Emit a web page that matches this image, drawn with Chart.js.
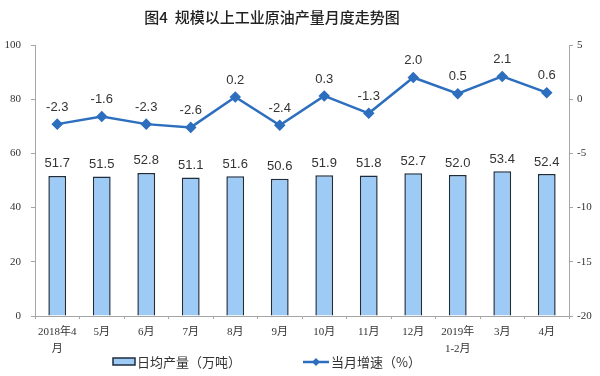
<!DOCTYPE html>
<html>
<head>
<meta charset="utf-8">
<script src="https://cdn.jsdelivr.net/npm/chart.js@4"></script>
<style>
  html, body { margin: 0; padding: 0; background: #fff; }
  #wrap { width: 600px; height: 376px; position: relative; }
</style>
</head>
<body>
<div id="wrap"><canvas id="chart" width="600" height="376"></canvas></div>
<script>
const months = [['2018年4', '月'], '5月', '6月', '7月', '8月', '9月', '10月', '11月', '12月', ['2019年', '1-2月'], '3月', '4月'];
const dailyOutput = [51.7, 51.5, 52.8, 51.1, 51.6, 50.6, 51.9, 51.8, 52.7, 52.0, 53.4, 52.4];
const growthRate = [-2.3, -1.6, -2.3, -2.6, 0.2, -2.4, 0.3, -1.3, 2.0, 0.5, 2.1, 0.6];
const leftTicks = [0, 20, 40, 60, 80, 100];
const rightTicks = [-20, -15, -10, -5, 0, 5];

const serif = '"Liberation Serif", "Noto Sans CJK SC", serif';
const sans = '"Liberation Sans", Arial, sans-serif';
const cjk = '"Noto Sans CJK SC", sans-serif';
const barFill = '#9ecbf6';
const barEdge = '#1e2c3c';
const lineColor = '#2d6fbe';
const axisColor = '#a6a6a6';

// draws value labels, title and legend
const extras = {
    id: 'extras',
    afterDatasetsDraw(chart) {
        const ctx = chart.ctx;
        ctx.save();
        ctx.textAlign = 'center';
        ctx.textBaseline = 'middle';
        ctx.fillStyle = '#333';
        ctx.font = '13px ' + sans;
        // dataset 0 = line, dataset 1 = bars
        chart.getDatasetMeta(1).data.forEach((bar, i) => {
            ctx.fillText(dailyOutput[i].toFixed(1), bar.x, bar.y - 12);
        });
        chart.getDatasetMeta(0).data.forEach((pt, i) => {
            ctx.fillText(growthRate[i].toFixed(1), pt.x, pt.y - 17);
        });

        // title
        ctx.font = '500 15px ' + cjk;
        ctx.fillStyle = '#222';
        ctx.fillText('图4  规模以上工业原油产量月度走势图', 272, 17);

        // legend
        ctx.textAlign = 'left';
        ctx.font = '13px ' + cjk;
        ctx.fillStyle = barFill;
        ctx.fillRect(113, 358, 22, 7);
        ctx.strokeStyle = barEdge;
        ctx.lineWidth = 1.5;
        ctx.strokeRect(113, 358, 22, 7);
        ctx.fillStyle = '#333';
        ctx.fillText('日均产量（万吨）', 137, 362);

        ctx.strokeStyle = lineColor;
        ctx.lineWidth = 2.5;
        ctx.beginPath();
        ctx.moveTo(303, 362);
        ctx.lineTo(329, 362);
        ctx.stroke();
        ctx.fillStyle = lineColor;
        ctx.beginPath();
        ctx.moveTo(316, 358);
        ctx.lineTo(320, 362);
        ctx.lineTo(316, 366);
        ctx.lineTo(312, 362);
        ctx.closePath();
        ctx.fill();
        ctx.fillStyle = '#333';
        ctx.fillText('当月增速（%）', 331, 362);
        ctx.restore();
    }
};

const ctx = document.getElementById('chart').getContext('2d');
const myChart = new Chart(ctx, {
    data: {
        labels: months,
        datasets: [{
            type: 'line',
            label: '当月增速（%）',
            data: growthRate,
            yAxisID: 'y1',
            borderColor: lineColor,
            backgroundColor: lineColor,
            borderWidth: 2.5,
            pointStyle: 'rectRot',
            pointRadius: 4,
            tension: 0,
            order: 0
        }, {
            type: 'bar',
            label: '日均产量（万吨）',
            data: dailyOutput,
            yAxisID: 'y',
            backgroundColor: barFill,
            borderColor: barEdge,
            borderWidth: 1.5,
            categoryPercentage: 1,
            barPercentage: 0.4,
            order: 1
        }]
    },
    options: {
        responsive: false,
        animation: false,
        layout: { padding: { top: 45, bottom: 0, left: 0, right: 0 } },
        plugins: {
            legend: { display: false },
            title: { display: false },
            tooltip: { enabled: false }
        },
        scales: {
            x: {
                offset: true,
                grid: { display: true, drawOnChartArea: false, offset: true, tickLength: 3, color: axisColor },
                border: { color: axisColor },
                ticks: { color: '#333', font: { family: serif, size: 11, lineHeight: 1.5 }, maxRotation: 0, autoSkip: false, padding: 5 },
                afterFit: s => { s.height = 60; }
            },
            y: {
                position: 'left',
                min: 0, max: 100,
                afterBuildTicks: s => { s.ticks = leftTicks.map(v => ({ value: v })); },
                grid: { drawOnChartArea: false, tickLength: 4, color: axisColor },
                border: { color: axisColor },
                ticks: { color: '#333', font: { family: serif, size: 11 }, padding: 10 },
                afterFit: s => { s.width = 35; }
            },
            y1: {
                position: 'right',
                min: -20, max: 5,
                afterBuildTicks: s => { s.ticks = rightTicks.map(v => ({ value: v })); },
                grid: { drawOnChartArea: false, tickLength: 4, color: axisColor },
                border: { color: axisColor },
                ticks: { color: '#333', font: { family: serif, size: 11 }, padding: 4 },
                afterFit: s => { s.width = 31; }
            }
        }
    },
    plugins: [extras]
});
</script>
</body>
</html>
